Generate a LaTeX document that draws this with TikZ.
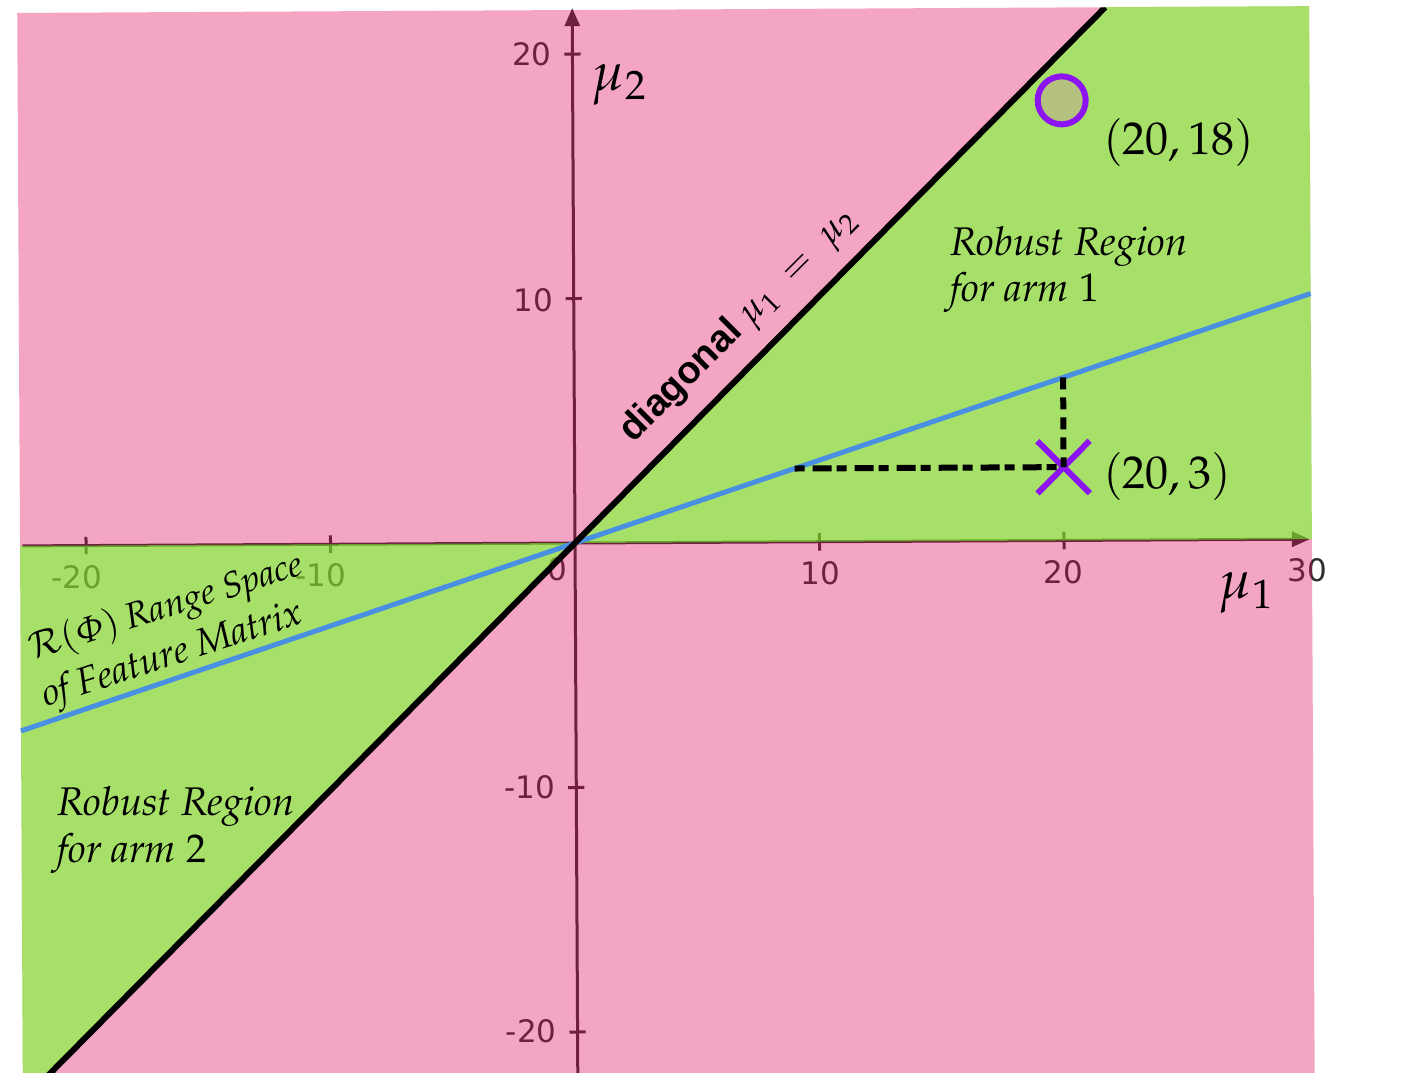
\documentclass[tikz,border=0pt]{standalone}
\usepackage[slantedGreek]{mathpazo}
\usepackage[no-math]{fontspec}
\newfontfamily\tickfont{DejaVu Sans}
\newfontfamily\boldsans{Liberation Sans}
\newcommand\palit{\fontencoding{OT1}\fontfamily{ppl}\fontseries{m}\fontshape{it}\selectfont}
\usetikzlibrary{arrows.meta}
\definecolor{axgray}{RGB}{47,47,47}
\definecolor{pinkov}{RGB}{228,8,92}
\definecolor{greenov}{RGB}{131,211,42}
\definecolor{bluel}{RGB}{74,144,226}
\definecolor{purp}{RGB}{140,20,240}
\definecolor{circfill}{RGB}{181,193,126}
\begin{document}
\begin{tikzpicture}[x=1pt,y=-1pt,
  axisln/.style={draw=axgray, line width=3pt, -{Triangle[length=18pt,width=15pt]}},
  tickln/.style={draw=axgray, line width=3pt},
  ticklab/.style={font=\tickfont\fontsize{31}{36}\selectfont, text=axgray, inner sep=0pt},
  axlab/.style={font=\fontsize{54}{60}\selectfont, inner sep=0pt, anchor=base west},
  ptlab/.style={font=\fontsize{46}{52}\selectfont, inner sep=0pt, anchor=base west},
  reglab/.style={font=\palit\fontsize{40}{46}\selectfont, inner sep=0pt, anchor=base west},
  rangelab/.style={inner sep=0pt, anchor=base west},
  diagln/.style={draw=black, line width=6pt},
  blueln/.style={draw=bluel, line width=5pt},
  dashln/.style={draw=black, line width=6pt},
  markln/.style={draw=purp, line width=6pt}]
\useasboundingbox (0,0) rectangle (1404,1072);
\clip (0,0) rectangle (1404,1072);
\fill[white] (0,0) rectangle (1404,1072);
\begin{scope}[shift={(575pt,-543pt)}, x=24.45pt, y=24.45pt, rotate=0.3]
  \coordinate (O) at (0,0);
  \coordinate (xL) at (-22.6,0);
  \coordinate (xR) at (30.06,0);
  \coordinate (xE) at (30.14,0);
  \coordinate (xW) at (-22.7,0);
  \coordinate (yB) at (0,-23.5);
  \coordinate (yT) at (0,21.88);
  \coordinate (RBL) at (-22.7,-23.5);
  \coordinate (RTR) at (30.14,21.8);
  \coordinate (DTR) at (21.8,21.8);
  \coordinate (DBL) at (-23.5,-23.5);
  \coordinate (WBL) at (-22.7,-22.7);
  \coordinate (BL) at (-22.7,-7.567);
  \coordinate (BR) at (30.14,10.047);
  \coordinate (P) at (20,3);
  \coordinate (Pv) at (20,6.667);
  \coordinate (Ph) at (9,3);
  % axes
  \draw[axisln] (xL) -- (xR);
  \draw[axisln] (yB) -- (yT);
  \foreach \t in {-20,-10,10,20} {
    \draw[tickln] (\t,-0.36) -- (\t,0.36);
    \draw[tickln] (-0.33,\t) -- (0.33,\t);
  }
  \node[ticklab] (tm20) at (-20.4,-1.28) {-20};
  \node[ticklab] (tm10) at (-10.4,-1.28) {-10};
  \node[ticklab] (t0) at (-0.74,-1.05) {0};
  \node[ticklab] (t10) at (10.02,-1.28) {10};
  \node[ticklab] (t20) at (19.96,-1.28) {20};
  \node[ticklab] (t30) at (29.96,-1.28) {30};
  \node[ticklab, anchor=east] (ty20) at (-0.85,20) {20};
  \node[ticklab, anchor=east] (ty10) at (-0.85,9.94) {10};
  \node[ticklab, anchor=east] (tym10) at (-0.85,-9.98) {-10};
  \node[ticklab, anchor=east] (tym20) at (-0.85,-19.96) {-20};
  % overlays
  \fill[pinkov, fill opacity=0.36, even odd rule] (RBL) rectangle (RTR)
      (O) -- (xE) -- (RTR) -- (DTR) -- cycle
      (O) -- (xW) -- (WBL) -- cycle;
  \fill[greenov, fill opacity=0.7] (O) -- (xE) -- (RTR) -- (DTR) -- cycle
      (O) -- (xW) -- (WBL) -- cycle;
  % lines
  \draw[blueln] (BL) -- (BR);
  \begin{scope}
    \clip (RBL) rectangle (RTR);
    \draw[diagln] (DBL) -- (DTR);
  \end{scope}
  % markers
  \draw[markln] (P) ++(-1.07,-1.07) -- ++(2.14,2.14);
  \draw[markln] (P) ++(-1.07,1.07) -- ++(2.14,-2.14);
  \draw[dashln, dash pattern=on 10pt off 8pt on 19pt off 5pt] (Ph) -- (P);
  \draw[dashln, dash pattern=on 12pt off 8pt] (Pv) -- (P);
  \node[circle, draw=purp, line width=6pt, fill=circfill, minimum size=48pt, inner sep=0pt] (Q) at (20,18) {};
\end{scope}
% labels
\node[axlab] (mu2) at (592,90) {$\mu_2$};
\node[axlab] (mu1) at (1219,598) {$\mu_1$};
\node[ptlab] (lab18) at (1103,154) {$(20,18)$};
\node[ptlab] (lab3) at (1103,488) {$(20,3)$};
\node[reglab] (r1a) at (950,255) {Robust Region};
\node[reglab] (r1b) at (950,301) {for arm $1$};
\node[reglab] (r2a) at (57,815) {Robust Region};
\node[reglab] (r2b) at (57,862) {for arm $2$};
\node[rangelab, rotate=17.5, font=\palit\fontsize{36}{40}\selectfont] (rg1) at (33,660) {$\mathcal{R}(\Phi)$ Range Space};
\node[rangelab, rotate=18, font=\palit\fontsize{38}{42}\selectfont] (rg2) at (46,707) {of Feature Matrix};
\node[anchor=base west, rotate=45, inner sep=0pt, font=\fontsize{37}{40}\selectfont] (dlab) at (633,444) {{\boldsans\bfseries\fontsize{38}{40}\selectfont diagonal} $\mu_1\ =\ \mu_2$};
\end{tikzpicture}
\end{document}
